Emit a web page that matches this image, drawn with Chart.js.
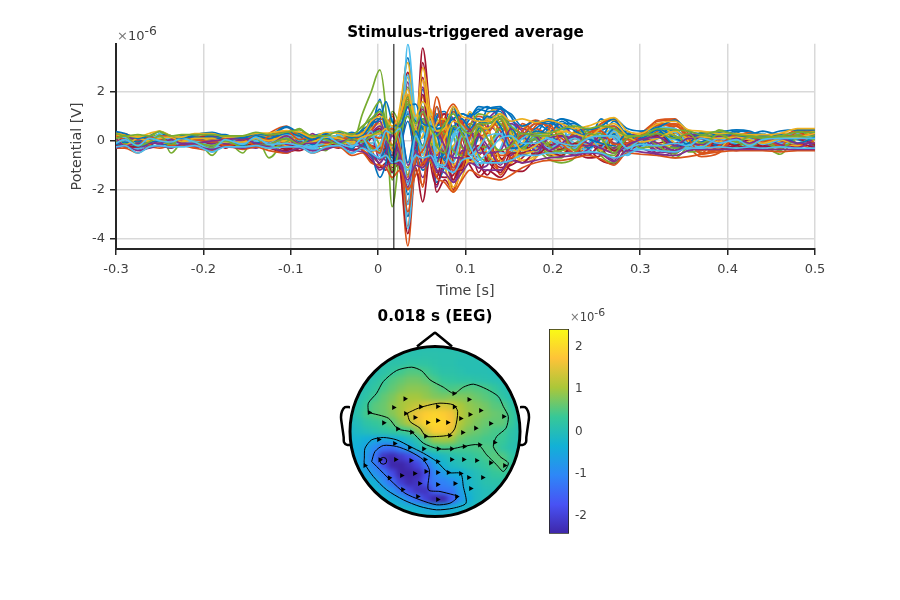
<!DOCTYPE html>
<html>
<head>
<meta charset="utf-8">
<title>Stimulus-triggered average</title>
<script src="https://cdn.jsdelivr.net/npm/chart.js@4/dist/chart.umd.js"></script>
<style>
  html, body { margin: 0; padding: 0; background: #fff; overflow: hidden; }
  canvas { position: absolute; }
  #butterfly { left: 0; top: 0; }
  #topo-field { left: 330px; top: 300px; filter: blur(2.5px); clip-path: circle(85px at 105px 131.5px); }
  #topo-overlay { left: 330px; top: 300px; }
  #colorbar { left: 530px; top: 300px; }
  .exponent { position: absolute; font-family: "DejaVu Sans"; color: #404040; white-space: nowrap; }
  .exponent sup { font-size: 0.95em; line-height: 0; vertical-align: 0.42em; }
  .exponent .times { color: #777; }
</style>
</head>
<body>
<canvas id="butterfly" width="900" height="300"></canvas>
<canvas id="topo-field" width="210" height="240"></canvas>
<canvas id="topo-overlay" width="210" height="240"></canvas>
<canvas id="colorbar" width="110" height="250"></canvas>
<div class="exponent" style="left:117px;top:28px;font-size:13px"><span class="times">×</span>10<sup>-6</sup></div>
<div class="exponent" style="left:570px;top:310px;font-size:11.5px"><span class="times">×</span>10<sup>-6</sup></div>
<script>
// Butterfly plot data (values in units of 1e-6 V)
const times = [-.3,-.29,-.275,-.262,-.25,-.237,-.225,-.21,-.19,-.175,-.155,-.14,-.125,-.105,-.09,-.075,-.06,-.045,-.03,-.018,-.008,
  .002,.009,.016,.025,.034,.043,.051,.06,.067,.076,.086,.096,.105,.115,.125,.14,.152,.165,
  .18,.195,.21,.225,.24,.255,.27,.285,.3,.32,.34,.355,.37,.39,.41,.425,.44,.46,.48,.5];

const ch01 = [.25,.2,-.15,0,.12,.05,-.05,.2,.3,.1,-.1,.1,.15,.55,.2,-.3,.05,.2,-.25,.4,.5, 1.7,.3,-1.3,.9,3.4,.6,2.1,.2,-1.7,-1.1,-.6,.3,.9,1.2,1.4,.9,.2,-.5, -.3,.5,.9,.5,-.1,.4,.6,.1,-.3,.1,.3,.2,-.1,.1,.4,.35,-.1,.15,.3,.1];
const ch02 = [.3,.15,-.2,.05,.15,0,.1,-.05,-.1,.1,.05,-.1,.3,.6,.1,-.25,.15,-.1,.3,-.35,-.6, -.9,.1,1.1,-.9,-4.3,-1.2,-1.8,.3,1.1,.2,-2.05,-.9,.6,1,.7,-1.4,-.6,.4, .85,.5,-.3,-.6,-.2,.1,-.3,.1,.3,.8,.85,-.2,-.65,-.5,.1,.3,.15,-.1,.3,.45];
const ch03 = [-.2,-.1,.2,.1,-.15,.05,-.1,.15,.2,-.1,.1,.05,-.1,.1,-.2,.25,-.1,.05,.1,-.2,.3, .6,.9,-.2,1.4,3.2,.7,3,.9,-.9,-.6,-1.9,-1.2,-.3,.1,1.1,1.3,.1,-.8, -.6,.2,.6,.1,.3,.7,.85,.1,-.2,-.3,.3,.25,.1,.2,.1,-.1,.05,-.05,.25,.4];
const ch04 = [.05,-.1,-.3,-.2,.05,.1,0,-.05,.1,.15,-.2,-.3,.05,.4,.1,-.4,-.3,.1,.2,.15,-.2, -.5,-.8,-.3,-1.2,-2.6,-.8,-1.5,-.3,.9,1.1,.9,-.2,-.7,-1.1,-1,.6,.8,.5, .3,-.2,-.5,-.3,.2,-.3,-.8,.1,.2,-.3,-.5,-.1,.25,.1,-.1,-.2,-.1,.05,-.15,-.2];
const ch05 = [.1,.05,-.1,.15,.4,-.5,-.05,.15,-.6,.05,-.5,.25,-.7,.15,.5,-.1,-.4,.3,-.15,1.1,2, 2.9,1.2,-2.7,-.3,2.2,.4,1.4,-.4,-.6,.9,.2,-.9,-.5,.3,.8,1.1,-.3,-.6, -.4,-.75,-.9,-.7,.1,.3,-.2,-.45,.1,.1,.4,-.45,-.4,.45,.15,-.3,-.2,-.55,.2,.3];
const ch06 = [.3,.1,-.3,0,.2,-.1,.05,.1,-.4,.05,-.2,.05,-.2,.1,-.1,-.3,.1,.15,-.3,.3,.2, -.4,.7,.9,-.5,3.95,.9,.1,1.1,-.7,-1.3,.3,.9,-.4,-1,-.6,.5,.4,-.3, -.5,-.2,.2,-.1,-.4,.1,.3,-.6,-.1,.4,.2,-.25,-.15,.2,-.15,.05,.1,-.2,.1,-.1];
const ch07 = [-.1,-.2,-.35,-.1,.1,0,-.1,-.2,.1,-.2,-.05,-.15,-.2,-.45,-.3,.25,-.1,-.3,.1,-.4,-.8, -1.1,-.9,-.8,.8,2.8,.4,3.8,.9,-1.2,-1.5,-1.4,-.5,-1,-1.5,-1.2,-1.5,-.9,-.3, .1,-.6,-.4,.1,-.3,-.8,-.95,-.2,.2,-.2,-.5,-.1,-.05,-.1,-.3,-.1,-.3,-.1,-.25,.3];
const ch08 = [-.1,.1,.05,-.15,-.2,.1,.15,-.1,.15,.2,.1,-.2,.05,-.3,-.15,.2,.3,-.15,-.5,-.1,.9, .9,-.5,-.4,.9,-3.1,-.6,-1.2,-.5,1.4,.6,1.2,.8,-.6,.2,1.3,1.4,.5,-.4, .2,.9,.6,-.3,-.2,.9,.3,-.4,.2,.6,.2,-.2,-.3,-.1,.35,.1,.3,-.15,.15,-.3];
const ch09 = [.15,.3,0,.2,-.1,-.15,.1,.2,-.2,-.1,-.15,.1,-.05,.15,.35,.1,-.2,.2,.15,.25,-.4, -.3,.5,1,-.2,-3.5,-.4,-1.9,.8,.5,-.6,-1.6,.1,.7,.3,-.6,-1.2,-.8,.2, .5,.2,-.5,-.5,.3,-.2,-.5,.3,.05,.6,.7,.3,-.5,-.35,.2,.1,.05,.25,.1,.2];
const ch10 = [-.05,.2,.1,-.1,-.1,.15,-.05,0,-.1,.2,.05,.2,.15,-.2,.1,.1,.2,-.25,.2,.1,-.1, .2,.6,-.6,.4,1.8,.3,-.8,1.2,.3,-.3,1.3,.5,-.9,-.6,.4,.7,-.2,-.9, -.7,-.1,.3,.6,-.3,.2,.5,.2,.1,.2,.6,.4,-.2,0,.2,.1,.2,.25,.35,-.2];
const ch11 = [.2,-.05,-.2,.2,-.05,-.15,.15,-.15,.2,-.05,-.1,-.15,.1,-.35,.3,.05,-.15,.1,-.1,-.3,.2, .3,-.3,-.9,.2,2.4,.2,2.2,-.2,-1.9,-.7,-1.7,-.9,.3,.7,.9,1.3,.3,-.6, -.1,.3,.7,.2,.5,.3,.1,-.1,.15,-.4,-.2,.15,.2,-.15,-.25,-.3,-.25,.1,-.2,.25];
const ch12 = [-.15,-.15,.05,-.2,.3,.1,-.15,.05,-.05,-.15,.2,.2,-.15,.2,-.1,-.15,.15,.2,.25,-.15,.4, -.2,-.7,1.2,.5,-1.4,.2,-.9,.2,.9,.3,1.2,.6,.2,-.6,-.8,.8,.4,.2, .4,-.1,-.35,-.2,.4,-.4,-.6,.2,.3,-.2,-.55,.25,.15,.2,-.1,.2,.15,-.1,.1,-.2];
const ch13 = [0,.2,-.2,.15,.05,-.2,-.1,.15,-.45,-.1,-.2,-.05,-.1,.2,-.15,-.35,.15,.1,-.2,.25,-.3, .5,-.2,-.8,.8,-3.6,-.5,.9,.5,-1.1,-.9,-.3,.7,.2,-.7,-.9,-.3,.7,.1, -.3,-.4,.1,.3,-.5,-.2,.6,-.5,-.2,.3,-.1,-.3,-.1,.3,-.2,-.1,.3,-.15,-.1,.15];
const ch14 = [-.25,-.1,.1,-.25,-.15,.1,.05,-.15,-.3,-.25,-.2,.15,-.25,-.5,-.2,-.1,.25,-.2,-.3,.2,.6, 1.1,.6,-.5,-.3,1.2,-.8,3.2,.3,-2.1,-1.6,-2,-.6,-.3,-1.3,-.7,-1.1,-1,-.7, -.2,-.3,-.2,-.5,-.1,-.5,-.7,.1,.25,-.1,.1,-.2,-.1,-.2,-.4,-.25,-.1,.3,.3,-.25];
const ch15 = [.1,.15,-.1,-.05,.25,.2,.1,.05,.15,-.05,-.15,.05,.2,.35,-.25,-.05,-.2,.25,-.35,.3,-.5, -1.5,-.9,.4,.3,-2.2,-.9,.6,-.4,1,1.2,.5,.4,1.1,.8,.4,1.35,1,.2, .7,.4,-.2,.2,.3,-.3,.3,.4,-.2,.3,.45,.1,.2,-.25,.3,.25,.4,.2,.05,-.1];
const ch16 = [.35,.2,-.05,.1,.25,-.1,-.05,.1,.1,.15,-.05,-.15,.25,.15,.3,-.1,.1,.05,.2,.35,.15, .4,-.4,.6,-.7,-2.5,-.2,.8,-.6,-.3,.9,1.5,.8,-.2,.5,.8,.4,-.7,-.3, .6,.85,.3,-.4,.1,.7,.9,.05,.15,.85,.9,.1,-.4,.1,.2,.35,.05,.1,.45,.3];
const ch17 = [.1,-.05,-.25,-.1,.05,.1,.15,-.1,0,-.15,-.1,.15,-.05,.05,.15,-.15,-.05,.2,-.05,.1,.5, .7,.2,-1,.6,2.6,.5,1.8,-.7,-1.4,-.5,-.2,.3,1.2,.4,-.5,-.9,.1,.6, .2,-.5,-.6,.4,.2,-.4,.2,-.2,.05,.5,-.1,-.3,.1,.3,.05,-.15,.2,-.05,-.2,.05];
const ch18 = [-.15,.05,.15,-.25,-.2,-.05,.2,.05,-.2,.1,.15,-.2,.1,-.15,-.2,.3,-.25,-.1,.15,-.2,.25, -.8,.4,.5,-.9,-1.7,.2,-.4,1,.5,-.9,.6,.3,.4,-.4,.6,.2,-.6,-.1, -.6,.1,-.2,-.6,-.35,.2,-.4,.3,-.25,-.5,-.3,.3,.15,.05,.15,-.3,.15,-.25,.2,-.3];
const ch19 = [.2,.1,-.15,.1,.25,-.3,.05,.1,-.35,.15,-.3,-.05,-.25,.25,.2,-.2,-.15,.1,.15,-.3,.7, 1.2,.3,-1.6,.2,1.6,-.3,.6,-.9,-.9,-.4,-.8,.3,.6,1.1,1,.7,.2,-.2, .05,-.6,-.7,.3,.4,-.6,-.9,-.3,-.1,.2,-.7,-.2,.35,.35,-.3,.1,-.15,-.4,.4,.15];
const ch20 = [.15,-.1,-.35,-.1,.3,-.15,0,.2,-.45,.1,-.25,-.1,-.3,.05,-.05,-.4,0,.2,-.15,.2,-.1, .2,.3,-.6,.3,2.7,.5,1.6,.6,-.4,-.8,-.4,.4,.3,.6,.4,-.5,-.5,-.2, .2,.3,.5,-.2,-.1,.4,.1,-.4,-.3,.2,.35,-.35,-.2,.15,-.2,.2,-.05,.2,.3,-.15];
const ch21 = [-.2,.1,-.2,.05,-.05,-.2,-.2,.1,.2,-.3,.1,-.25,-.15,-.3,-.4,-.15,-.25,-.15,.2,-.25,-.4, -1,-1.2,.3,-1.1,-3.8,-1.1,-2.5,-.2,.2,.8,.9,.2,-.8,-.6,-.3,-.7,-1.2,-1.25, -.7,-.1,.2,-.4,-.7,-.6,.1,-.1,.1,-.5,.35,-.2,-.3,-.2,-.35,-.2,-.2,0,-.3,.2];
const ch22 = [-.2,-.15,-.1,.1,-.1,.15,-.15,-.1,.25,.25,-.05,.15,.2,.4,.15,.1,-.1,.1,.35,.05,-.6, -.7,-.3,.5,.2,1.1,.8,.5,-.7,.6,.7,.9,1.1,1,1.3,1.2,1.2,.1,.1, .5,.8,.5,.5,-.3,.1,.8,.25,.05,.3,-.3,.3,.1,.3,-.15,.3,.25,-.1,.2,.25];
const ch23 = [-.1,.25,.1,-.1,.1,.1,0,-.2,-.15,-.05,.2,-.05,.1,-.1,.2,.1,.1,-.1,-.1,.1,.2, .1,.4,-.4,-.5,-1.5,.3,-1.1,.4,1.8,.4,-1.1,-.5,.2,.9,.5,-.6,-.4,.7, .3,-.3,-.2,.35,.5,.4,-.1,-.2,-.1,.4,.6,.2,-.3,-.4,.15,.05,-.1,.15,-.1,-.4];
const ch24 = [.05,.1,-.1,.15,.15,-.1,.15,.05,.05,0,-.1,-.1,.05,0,-.05,-.2,.05,.15,.25,.05,-.2, -.5,.8,.3,.5,-2,-.2,.2,1.3,-.1,-1,-2.1,-1.5,-.5,.5,.9,.1,-.3,-.5, -.4,.4,.3,-.2,.1,.6,.5,-.3,.1,.7,.2,0,.2,-.05,.2,-.05,.15,.2,.2,.35];
const ch25 = [.25,.05,-.25,-.15,.1,-.15,.05,.15,-.15,-.15,-.15,.1,-.05,.3,.15,-.25,-.1,-.05,-.1,.2,.4, .8,.1,-.9,.3,1.4,-.1,1.2,-.5,-1.3,-1.1,-.6,.6,1,.3,-.3,.3,.7,.4, -.2,-.3,.2,.1,.3,-.1,-.3,.15,.3,-.6,-.4,.2,.25,.1,-.05,.15,-.2,-.1,.15,.1];
const ch26 = [-.05,.15,-.05,-.05,.1,.05,-.05,.2,-.1,-.1,.15,.15,-.2,.1,.05,-.2,.1,-.05,-.1,.15,-.3, -.4,.2,.8,-.6,-1.1,.1,-.5,-.1,.4,.5,.4,-.3,-.6,-.3,-.2,.5,.3,-.4, .3,-.45,-.4,-.1,.2,.3,-.4,.2,-.3,-.2,-.3,-.2,.2,.2,.05,-.2,-.1,-.3,.25,-.15];
const ch27 = [.2,0,-.25,.05,.1,-.05,-.1,.05,-.3,.15,-.1,0,-.25,.15,0,-.3,.05,.1,-.1,.1,.15, .3,-.1,-.4,.2,1.2,.1,.4,-.3,-.6,-.6,.1,.5,-.2,-.5,-.3,.3,-.1,-.2, .1,-.3,-.1,.1,-.2,-.1,.2,-.5,.15,.1,.05,-.3,-.05,.1,-.1,.05,.05,-.1,-.1,.1];
const ch28 = [-.3,-.15,-.15,-.15,0,.05,.05,-.25,-.25,.05,-.15,-.05,-.3,-.4,-.1,-.05,-.05,-.25,-.35,-.3,.1, .3,-.6,-1.1,-.7,1.9,-.5,2.6,-.9,-1.8,-.9,-1.1,-1,-.4,-.9,-1.4,-.4,-.7,-.9, -.5,-.5,-.35,-.3,.2,-.3,.4,-.3,-.1,.15,-.1,.1,-.15,-.25,.1,-.25,-.15,-.1,.4,-.2];
const ch29 = [.3,.05,-.05,.2,-.05,-.2,.2,.1,.05,.2,.2,-.1,.1,.25,-.05,.1,.15,.05,.05,-.25,.3, .4,-.2,-.9,-.3,.8,-.4,.9,.3,-.7,-.5,.5,.9,.5,.9,.7,.9,.6,-.1, .1,.6,.7,.7,.1,-.1,.5,.3,-.1,.5,.1,-.1,-.05,.25,.1,.1,.2,.1,.1,.35];
const ch30 = [.1,-.15,-.1,-.15,.2,.15,-.15,.15,.05,-.2,-.05,.2,.05,.25,-.1,.2,-.2,.15,.05,.15,.4, .9,.7,-.2,.9,1.7,.2,1.1,-.2,-.6,.2,1.2,.7,.4,.2,.3,.9,-.1,.4, .8,.6,.1,-.2,.3,.5,.6,-.1,.1,.7,.5,-.1,-.5,.2,.05,.2,.1,-.2,.35,-.1];
const ch31 = [.2,.2,.15,-.05,-.1,-.05,.05,-.1,.1,.05,-.15,.15,.15,-.05,.15,.05,-.15,-.05,-.15,.3,-.5, -.1,.2,.4,-.3,-1.2,.5,-.5,-.2,.7,.9,-1,-.6,-.9,-.3,.4,-.8,-.9,-.1, .4,.1,-.1,-.4,-.15,-.1,.35,.15,.25,-.1,-.2,.15,-.2,-.3,.3,.15,.25,.05,-.1,.2];
const ch32 = [-.1,.15,.05,.05,-.15,.2,.1,.1,-.1,-.1,.05,.1,-.1,.1,-.2,.05,.2,-.2,-.2,-.1,.3, .6,-.1,-.4,.7,-1,-.1,1.3,-.4,-.9,.3,-1.3,-.4,-.4,.2,-.2,-1,-.1,.2, -.4,.1,.2,-.2,-.2,.2,-.1,-.1,.15,-.1,-.4,-.15,-.15,.2,.15,.1,.1,-.15,-.3,.15];
const ch33 = [.05,-.1,-.2,.1,.1,-.2,.1,-.05,-.3,.1,-.2,.1,-.3,-.05,.3,.05,-.25,.15,-.05,.5,1.1, 1.6,.7,-1.2,-.2,1.8,.2,.9,-.1,-.2,.3,-.4,-.6,-.2,.4,.5,.9,.2,-.3, .1,-.2,-.5,-.5,.2,.2,.2,-.3,.05,.3,.2,-.1,-.3,.3,-.05,-.2,.05,-.3,.1,.2];
const ch34 = [.1,.15,-.15,.1,.15,.05,-.15,0,-.2,-.05,-.1,.1,-.1,.25,.1,-.2,-.1,.25,-.2,-.05,.4, -.6,.2,.6,-.2,-2.6,.4,-.6,.7,.2,-.4,-.9,.2,-.6,-.3,.2,.3,-.4,.1, .3,.1,-.2,-.3,.25,-.3,.4,-.3,.05,.55,.5,-.15,-.25,.1,.05,.1,-.15,.05,.2,.1];
const ch35 = [.05,-.25,-.25,.05,-.05,-.1,-.1,0,-.2,-.1,.05,-.2,-.1,-.35,-.05,-.2,-.2,-.1,.05,-.1,-.2, -.3,-.4,-1.3,-.2,-2,.5,-1,.1,.6,1.1,-.9,-1.2,-.2,.3,-.9,-.8,-.4,-.1, -.6,-.2,-.1,-.3,-.6,-.2,-.4,-.4,-.1,.2,-.3,-.15,-.2,-.05,-.2,-.3,-.25,-.2,-.1,-.3];
const ch36 = [-.15,-.05,-.2,-.1,.05,-.1,.2,.15,.1,.1,-.2,.2,.1,.3,.2,-.15,.1,-.1,.1,.2,.7, 1.3,.4,-.7,.6,-.9,.4,-.2,.9,.3,-.8,1.4,.3,.2,.5,1,.6,-.3,-.2, .4,.3,.8,.4,.1,-.1,-.2,.3,.1,.45,-.2,-.1,.3,.3,.2,.15,.05,.25,-.1,.15];
const ch37 = [.2,.05,-.15,.15,.05,-.05,.1,.05,-.05,.1,.1,-.2,.2,.4,.05,.2,-.1,.1,.1,.05,-.2, -.5,.3,.5,-.3,-2.9,-.8,-.4,.4,1.4,-.3,-1.2,-1.1,.1,.7,.1,-.9,-.2,.2, .7,.7,-.1,-.5,.2,.4,-.15,-.1,.2,.65,.65,.1,-.55,-.2,.25,.2,-.05,.2,.2,.3];
const ch38 = [.15,-.2,.1,0,.1,.15,-.05,.1,.1,-.05,-.05,.1,0,.2,-.1,-.05,.15,.1,-.05,.15,.25, .3,.5,-.4,1,2.1,.5,2.5,.4,-.5,.1,.8,.6,-.1,.6,.5,1,.3,-.4, -.2,.3,.4,.3,.15,.5,.7,.2,-.05,.1,.4,.1,.15,.1,.15,.05,-.1,.1,.15,.3];
const ch39 = [.1,-.2,-.1,-.1,-.1,.05,-.1,-.1,0,.05,.1,-.1,-.15,.2,-.1,-.1,-.05,-.05,.1,-.25,-.5, -.9,-.5,.2,-.6,-1.9,-.4,-.9,.1,.4,-.2,-.7,-.7,.5,-.5,-.5,-.4,.5,.3, .2,-.4,-.1,.2,-.1,-.3,-.5,-.2,.05,.15,-.2,.1,.1,-.1,.1,-.1,.1,.1,-.1,-.1];
const ch40 = [.1,.2,-.2,-.05,.2,-.15,.15,-.05,-.2,0,-.25,-.2,-.15,.1,-.15,.15,.05,-.15,.1,-.05,.2, .4,.1,-.2,.5,1,.1,-.2,.6,-.2,-.5,.6,.3,-.4,.6,.1,-.4,-.2,.3, .2,.2,.3,-.4,.3,.1,-.5,.1,.2,.3,.1,.3,-.1,.25,-.05,.15,.1,.15,.2,.05];
const ch41 = [-.1,.05,-.2,.1,0,-.05,.1,-.05,-.35,.05,-.15,.15,-.15,-.1,-.2,-.25,.2,-.1,-.25,.1,-.4, -.2,.4,.3,.5,-1.8,.2,-.3,.8,-.9,-1,.2,.6,-.2,-.8,-.5,.1,.2,-.1, -.1,.1,-.1,-.2,.1,.2,.2,-.3,-.15,-.2,-.1,-.2,.1,-.1,.05,-.2,.05,.1,.1,.1];
const ch42 = [-.2,-.2,-.25,.1,.05,.15,-.1,-.1,-.1,-.2,-.2,-.1,-.1,-.25,-.25,.1,-.15,-.2,-.2,.05,.3, .5,-.3,-.6,.3,1.5,-.3,1.9,-.5,-1.5,-.3,-1.6,-.8,-.6,-.2,-.8,-1.3,-.5,-.5, -.1,-.4,-.6,-.1,-.2,-.1,-.4,-.1,.1,.3,-.2,.15,.1,-.3,-.2,.05,-.2,.2,.1,-.15];
const ch43 = [.38,.3,.1,.2,.38,.2,.12,.25,.35,.2,.12,.28,.25,.58,.3,.05,.3,.35,.12,.45,.7, .9,1.6,.8,.6,1.4,1.5,.7,.6,.5,.6,.9,1.1,1,1.4,1.35,1.3,1.1,.6, .8,.7,.9,.75,.45,.6,.9,.5,.4,.55,.85,.4,.3,.35,.45,.4,.2,.4,.45,.45];
const ch44 = [-.3,-.3,-.5,-.25,-.3,-.2,-.2,-.3,-.4,-.2,-.35,-.25,-.4,-.5,-.25,-.5,-.3,-.25,-.6,-.5,-.9, -1,-1.1,-1.5,-1.2,-2,-1.4,-.9,-.8,-1.5,-1.7,-2.1,-1.6,-1.2,-1.4,-1.5,-1.6,-1.4,-1.1, -.9,-.8,-.8,-.7,-.6,-.75,-1,-.5,-.55,-.6,-.7,-.65,-.55,-.45,-.4,-.4,-.4,-.45,-.4,-.4];
const ch45 = [.3,.22,.15,.3,.4,.2,.15,.3,.3,.15,.2,.3,.32,.42,.35,.15,.35,.3,.2,.3,.8, 1,.9,.6,1.1,1.9,1,1.6,1,.4,.5,1.4,1,.9,.8,.8,1.1,.8,.9, .75,.85,.7,.5,.6,.8,.95,.4,.3,.7,.8,.45,.4,.3,.3,.25,.25,.3,.5,.5];
const ch46 = [-.3,-.2,-.4,-.3,-.2,-.3,-.15,-.22,-.35,-.25,-.3,-.2,-.25,-.45,-.3,-.4,-.35,-.2,-.4,-.45,-.7, -1.2,-1,-.9,-1,-1.6,-1,-1.1,-.7,-1.2,-1.3,-1.7,-1.3,-.9,-1.1,-1.2,-1.2,-.8,-.9, -.8,-.7,-.65,-.6,-.5,-.55,-.85,-.4,-.45,-.55,-.6,-.4,-.35,-.35,-.35,-.35,-.35,-.35,-.35,-.35];
const ch47 = [.3,.2,.25,.2,.38,.2,.25,.25,.25,.2,.2,.35,.25,.35,.45,.2,.2,.4,.25,.6,.9, 1.2,.8,.3,.8,1.5,.7,1.2,.5,.2,.7,1.1,.5,.3,.7,.7,1,.6,.3, .3,.3,.5,.6,.5,.6,.5,.2,.2,.5,.45,.4,.25,.4,.25,.2,.15,.2,.35,.35];
const ch48 = [-.25,-.2,-.5,-.25,-.2,-.25,-.25,-.2,-.45,-.25,-.25,-.2,-.3,-.25,-.25,-.5,-.25,-.2,-.5,-.3,-.5, -.7,-.6,-.9,-.8,-1.2,-.6,-.7,-.6,-1,-1.1,-1.3,-.8,-.7,-.9,-.9,-.9,-.8,-.6, -.6,-.5,-.5,-.5,-.45,-.5,-.7,-.55,-.35,-.4,-.45,-.3,-.3,-.25,-.3,-.25,-.3,-.25,-.3,-.3];
const channels = [ch01,ch02,ch03,ch04,ch05,ch06,ch07,ch08,ch09,ch10,ch11,ch12,ch13,ch14,ch15,ch16,ch17,ch18,ch19,ch20,ch21,
  ch22,ch23,ch24,ch25,ch26,ch27,ch28,ch29,ch30,ch31,ch32,ch33,ch34,ch35,ch36,ch37,ch38,ch39,ch40,ch41,ch42,
  ch43,ch44,ch45,ch46,ch47,ch48];
const lineColors = ['#0072BD','#D95319','#EDB120','#7E2F8E','#77AC30','#4DBEEE','#A2142F'];

const timeTicks = [-.3,-.2,-.1,0,.1,.2,.3,.4,.5];
const potentialTicks = [-4,-2,0,2];
const cursorTime = 0.018;

// Topography: scalp map, head radius = 255 units
const fieldCols = [-255,-229.5,-204,-178.5,-153,-127.5,-102,-76.5,-51,-25.5,0,25.5,51,76.5,102,127.5,153,178.5,204,229.5,255];
const fieldRows = [255,229.5,204,178.5,153,127.5,102,76.5,51,25.5,0,-25.5,-51,-76.5,-102,-127.5,-153,-178.5,-204,-229.5,-255];
const n = null;
const fieldValues = [
  [n,n,n,n,n,n,n,.05,.05,.05,.05,.05,.05,.05,n,n,n,n,n,n,n],
  [n,n,n,n,n,.05,.08,.1,.1,.12,.12,.1,.1,.08,.05,.05,n,n,n,n,n],
  [n,n,n,.05,.1,.15,.15,.2,.2,.2,.15,.1,.1,.05,.05,.05,0,0,n,n,n],
  [n,n,0,.05,.15,.25,.4,.5,.5,.4,.25,.15,.15,.1,.05,.05,.05,0,0,n,n],
  [n,0,.05,.15,.3,.5,.6,.7,.7,.6,.45,.3,.25,.2,.2,.15,.1,.05,0,0,n],
  [n,0,.1,.25,.45,.6,.75,.85,.85,.8,.65,.5,.45,.5,.55,.5,.45,.3,.1,0,n],
  [0,.05,.2,.4,.6,.75,.95,1,1,.9,.8,.75,.8,.8,.75,.65,.55,.45,.2,.05,0],
  [0,.1,.35,.55,.65,.85,1,1.15,1.25,1.4,1.4,1.4,1.3,1.05,.9,.8,.7,.55,.5,.2,0],
  [-.05,.15,.42,.55,.65,.8,1,1.35,1.6,1.85,1.95,1.85,1.65,1.15,.95,.85,.75,.65,.6,.35,.05],
  [-.1,0,.2,.3,.4,.55,.85,1.15,1.55,1.95,2,1.95,1.7,1.1,.9,.75,.65,.6,.6,.35,.05],
  [-.2,-.1,0,.1,.2,.3,.38,.45,.8,1.4,1.85,1.85,1.55,.95,.75,.65,.55,.45,.4,.2,.05],
  [-.25,-.3,-.4,-.5,-.55,-.45,-.3,-.1,.15,.6,.95,1,.95,.65,.55,.5,.42,.4,.35,.15,.05],
  [-.3,-.4,-.6,-1,-1.35,-1.4,-1.05,-.6,-.15,.15,.38,.42,.42,.42,.43,.46,.5,.46,.25,.1,0],
  [-.3,-.45,-.75,-1.3,-2.2,-2.35,-2.1,-1.85,-1.35,-.65,-.3,-.1,.05,.15,.2,.32,.43,.55,.5,.25,.05],
  [-.25,-.4,-.75,-1.15,-1.85,-2.4,-2.45,-2.25,-1.95,-1.35,-.75,-.3,-.1,0,.1,.2,.3,.45,.6,.3,.05],
  [-.2,-.3,-.55,-.85,-1.2,-1.85,-2.45,-2.5,-2.35,-1.85,-1.05,-.75,-.42,-.4,-.15,0,.15,.3,.35,.2,0],
  [-.1,-.2,-.25,-.35,-.95,-1.4,-2.05,-2.35,-2.2,-1.65,-1.2,-1.1,-.95,-.55,-.2,-.05,.1,.15,.15,.1,0],
  [n,n,-.15,-.2,-.4,-.85,-1.35,-1.9,-2.2,-2.2,-1.5,-1.3,-1.25,-.7,-.25,-.1,0,.05,.05,n,n],
  [n,n,n,-.15,-.2,-.35,-.55,-1.05,-1.45,-2,-2.5,-2.5,-1.7,-.85,-.4,-.1,0,0,n,n,n],
  [n,n,n,n,n,-.1,-.2,-.25,-.35,-.5,-.6,-.55,-.42,-.3,-.15,-.05,n,n,n,n,n],
  [n,n,n,n,n,n,n,-.1,-.15,-.2,-.25,-.2,-.15,-.1,n,n,n,n,n,n,n]
];

const electrodes = [[-90,98],[102,96],[57,114],[-124,72],[-43,74],[8,75],[58,74],[137,63],[105,51],[206,45],
  [-197,57],[-88,54],[-60,42],[77,39],[-154,26],[-22,27],[8,33],[38,27],[167,24],[-112,8],[-70,-2],[-28,-14],
  [44,-12],[83,-3],[122,10],[-169,-24],[179,-33],[-121,-36],[-76,-48],[-34,-52],[10,-52],[50,-52],[88,-45],[134,-40],
  [-165,-85],[-118,-84],[-72,-87],[-30,-84],[8,-90],[50,-84],[86,-84],[125,-87],[167,-94],[209,-102],[-210,-102],
  [-27,-120],[8,-123],[40,-123],[77,-126],[-61,-126],[-100,-132],[-137,-139],[101,-138],[143,-138],
  [-46,-156],[8,-159],[60,-156],[107,-171],[-97,-174],[-52,-195],[8,-204],[65,-195]];
const selectedElectrode = [[-155,-88]];

const contourA = [[-200,57],[-200,85],[-175,115],[-155,150],[-115,183],[-70,193],[-40,182],[-15,155],[25,133],[57,114],[85,133],[115,142],[155,127],[190,105],[205,75],[220,45],[213,10],[185,-15],[175,-45],[195,-75],[220,-95],[205,-120],[185,-100],[155,-70],[130,-40],[85,-45],[50,-52],[10,-52],[-35,-35],[-70,-2],[-112,8],[-140,40],[-200,57]];
const contourB = [[-83,55],[-50,70],[-15,80],[15,85],[55,80],[68,60],[60,10],[43,-10],[5,-15],[-28,-14],[-45,10],[-75,30],[-83,55]];
const contourC = [[-212,-80],[-210,-50],[-190,-25],[-155,-18],[-115,-25],[-75,-45],[-35,-65],[5,-90],[40,-123],[77,-126],[85,-165],[93,-215],[55,-230],[5,-235],[-45,-225],[-95,-205],[-145,-175],[-185,-135],[-212,-95],[-212,-80]];
const contourD = [[-190,-90],[-180,-60],[-155,-42],[-115,-45],[-75,-60],[-35,-85],[-17,-115],[-20,-175],[15,-180],[55,-190],[70,-195],[45,-215],[5,-220],[-45,-205],[-90,-185],[-135,-145],[-175,-105],[-190,-90]];

const nose = [[-54,255],[0,297],[51,255]];
const leftEar = [[-255,73],[-270,73],[-279,61],[-282,43],[-279,19],[-274,-17],[-273,-32],[-264,-40],[-249,-40]];
const rightEar = [[255,73],[270,73],[279,61],[282,43],[279,19],[274,-17],[273,-32],[264,-40],[249,-40]];

// Colour bar
const colorLimit = 2.43;
const colorbarTicks = [-2,-1,0,1,2];
const parulaStops = [[62,38,168],[72,82,244],[46,135,247],[18,177,214],[55,200,151],[171,199,57],[254,195,56],[249,251,21]];

Chart.defaults.font.family = '"DejaVu Sans"';
Chart.defaults.color = '#404040';
Chart.defaults.animation = false;
Chart.defaults.events = [];
Chart.defaults.plugins.legend.display = false;
Chart.defaults.plugins.tooltip.enabled = false;

function parulaColor(t) {
    const pos = Math.min(Math.max(t, 0), 1) * (parulaStops.length - 1);
    const i = Math.min(Math.floor(pos), parulaStops.length - 2);
    const f = pos - i;
    const rgb = parulaStops[i].map((c, k) => Math.round(c + (parulaStops[i + 1][k] - c) * f));
    return `rgb(${rgb[0]}, ${rgb[1]}, ${rgb[2]})`;
}

function valueColor(v) {
    return parulaColor((v + colorLimit) / (2 * colorLimit));
}

function toPoints(list) {
    return list.map(p => ({ x: p[0], y: p[1] }));
}

function outline(list, width, tension) {
    return { data: toPoints(list), showLine: true, borderColor: '#000', borderWidth: width, tension: tension, pointRadius: 0 };
}

// Butterfly plot, the dark red lines sit a little lower in the stack
const channelSets = channels.map((values, i) => ({
    data: values.map((v, k) => ({ x: times[k], y: v })),
    borderColor: lineColors[i % lineColors.length],
    borderWidth: 1.7,
    pointRadius: 0,
    cubicInterpolationMode: 'monotone',
    order: channels.length - i + (i % 7 === 6 ? 14 : 0)
}));
channelSets.push({
    data: [{ x: cursorTime, y: -4.43 }, { x: cursorTime, y: 3.97 }],
    borderColor: '#000',
    borderWidth: 1,
    pointRadius: 0,
    order: 0
});

new Chart(document.getElementById('butterfly'), {
    type: 'line',
    data: { datasets: channelSets },
    options: {
        responsive: false,
        layout: { autoPadding: false, padding: { left: 62, right: 85, top: 23.6, bottom: 0 } },
        plugins: {
            title: {
                display: true,
                text: 'Stimulus-triggered average',
                color: '#000',
                fullSize: false,
                font: { size: 15.2, weight: 'bold' },
                padding: { top: 0, bottom: 2 }
            }
        },
        scales: {
            x: {
                type: 'linear',
                min: -.3,
                max: .5,
                afterFit: s => { s.height = 51; },
                afterBuildTicks: s => { s.ticks = timeTicks.map(v => ({ value: v })); },
                ticks: { font: { size: 13 }, maxRotation: 0, padding: 7, callback: v => String(v) },
                grid: { color: '#d9d9d9', lineWidth: 1.5, tickColor: '#262626', tickLength: 6, tickWidth: 1.5 },
                border: { color: '#262626', width: 2 },
                title: { display: true, text: 'Time [s]', font: { size: 14.3 }, padding: { top: 0, bottom: 0 } }
            },
            y: {
                min: -4.43,
                max: 3.97,
                afterFit: s => { s.width = 54; },
                afterBuildTicks: s => { s.ticks = potentialTicks.map(v => ({ value: v })); },
                ticks: { font: { size: 13 }, padding: 5, callback: v => String(v) },
                grid: { color: '#d9d9d9', lineWidth: 1.5, tickColor: '#262626', tickLength: 6, tickWidth: 1.5 },
                border: { color: '#262626', width: 2 },
                title: { display: true, text: 'Potential [V]', font: { size: 14.3 }, padding: { top: 7, bottom: 0 } }
            }
        }
    }
});

// Topography field, blurred and clipped to the head by the canvas css
const fieldPoints = [];
fieldValues.forEach((row, j) => {
    row.forEach((v, i) => {
        if (v !== null) {
            fieldPoints.push({ x: fieldCols[i], y: fieldRows[j], v: v });
        }
    });
});

const topoScales = {
    x: { type: 'linear', min: -300, max: 300, display: false },
    y: { type: 'linear', min: -300, max: 300, display: false }
};

new Chart(document.getElementById('topo-field'), {
    type: 'scatter',
    data: {
        datasets: [{
            data: fieldPoints,
            pointStyle: 'rect',
            pointRadius: 6.7,
            pointBorderWidth: 0,
            pointBackgroundColor: ctx => valueColor(ctx.raw.v),
            clip: false
        }]
    },
    options: {
        responsive: false,
        layout: { autoPadding: false, padding: { left: 5, right: 5, top: 31.5, bottom: 8.5 } },
        scales: topoScales
    }
});

new Chart(document.getElementById('topo-overlay'), {
    type: 'scatter',
    data: {
        datasets: [
            { data: toPoints(electrodes), pointStyle: 'triangle', pointRotation: 90, pointRadius: 3, pointBackgroundColor: '#000', pointBorderWidth: 0 },
            { data: toPoints(selectedElectrode), pointStyle: 'circle', pointRadius: 3.4, pointBackgroundColor: 'transparent', pointBorderColor: '#000', pointBorderWidth: 1 },
            outline(contourA, 1, .25),
            outline(contourB, 1, .25),
            outline(contourC, 1, .25),
            outline(contourD, 1, .25),
            { data: [{ x: 0, y: 0 }], pointStyle: 'circle', pointRadius: 85, pointBackgroundColor: 'transparent', pointBorderColor: '#000', pointBorderWidth: 3 },
            outline(nose, 2.5, 0),
            outline(leftEar, 2.5, .3),
            outline(rightEar, 2.5, .3)
        ]
    },
    options: {
        responsive: false,
        layout: { autoPadding: false, padding: { left: 5, right: 5, top: 8, bottom: 8.5 } },
        plugins: {
            title: {
                display: true,
                text: '0.018 s (EEG)',
                color: '#000',
                fullSize: false,
                font: { size: 15.2, weight: 'bold' },
                padding: { top: 0, bottom: 5.26 }
            }
        },
        scales: topoScales
    }
});

// Colour bar
new Chart(document.getElementById('colorbar'), {
    type: 'bar',
    data: {
        labels: [''],
        datasets: [{
            data: [[-colorLimit, colorLimit]],
            barPercentage: 1,
            categoryPercentage: 1,
            borderColor: '#262626',
            borderWidth: 1.2,
            borderSkipped: false,
            backgroundColor: ctx => {
                const area = ctx.chart.chartArea;
                if (!area) {
                    return '#12B1D6';
                }
                const gradient = ctx.chart.ctx.createLinearGradient(0, area.bottom, 0, area.top);
                parulaStops.forEach((c, i) => {
                    gradient.addColorStop(i / (parulaStops.length - 1), `rgb(${c[0]}, ${c[1]}, ${c[2]})`);
                });
                return gradient;
            }
        }]
    },
    options: {
        responsive: false,
        layout: { autoPadding: false, padding: { left: 19, right: 0, top: 29, bottom: 15.5 } },
        scales: {
            x: { display: false },
            y: {
                position: 'right',
                min: -colorLimit,
                max: colorLimit,
                afterFit: s => { s.width = 71; },
                afterBuildTicks: s => { s.ticks = colorbarTicks.map(v => ({ value: v })); },
                ticks: { font: { size: 12 }, padding: 9, callback: v => String(v) },
                grid: { drawOnChartArea: false, tickColor: '#262626', tickLength: -3, tickWidth: 1 },
                border: { display: false }
            }
        }
    }
});
</script>
</body>
</html>
